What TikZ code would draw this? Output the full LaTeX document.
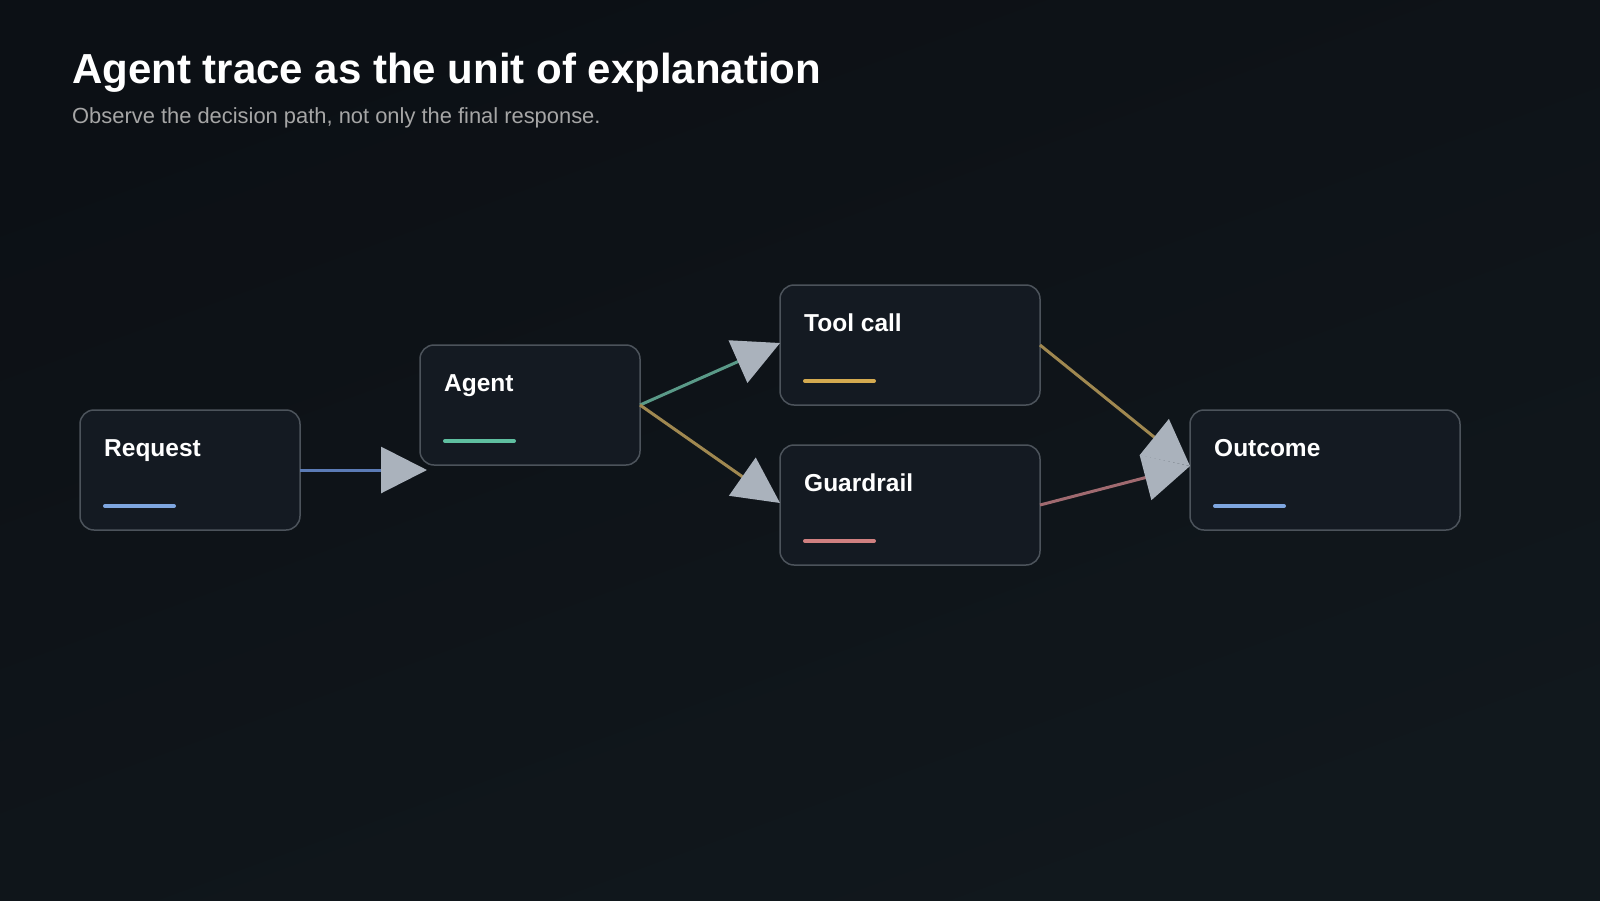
\documentclass[tikz,border=0pt]{standalone}
\usepackage{fontspec}
\setmainfont{Liberation Sans}
\usetikzlibrary{arrows.meta}
\definecolor{bgA}{HTML}{0C1015}
\definecolor{bgB}{HTML}{11181D}
\definecolor{boxf}{HTML}{141A22}
\definecolor{boxd}{HTML}{4C535B}
\definecolor{tipc}{HTML}{AAB2BC}
\definecolor{cblue}{HTML}{5B7BB5}
\definecolor{cteal}{HTML}{5A9A88}
\definecolor{cgold}{HTML}{A08850}
\definecolor{crose}{HTML}{A06A70}
\definecolor{ablue}{HTML}{7EA6E0}
\definecolor{ateal}{HTML}{5FBFA0}
\definecolor{agold}{HTML}{D4AA50}
\definecolor{arose}{HTML}{D08080}
\begin{document}
\begin{tikzpicture}[x=1pt,y=-1pt,
  box/.style={draw=boxd,line width=1.5pt,fill=boxf,rounded corners=14pt},
  lbl/.style={anchor=base west,text=white,font=\fontsize{24.5}{28}\selectfont\bfseries,inner sep=0},
  bar/.style={line width=4pt,line cap=round},
  conn/.style={line width=3pt,-{Triangle[length=46pt,width=46pt,fill=tipc,color=tipc]}}]
\shade[top color=bgA,bottom color=bgB,shading angle=20] (0,0) rectangle (1600,900);
\useasboundingbox (0,0) rectangle (1600,900);
\node[anchor=base west,text=white,font=\fontsize{42}{48}\selectfont\bfseries,inner sep=0] (title) at (72,83) {Agent trace as the unit of explanation};
\node[anchor=base west,text=gray!70,font=\fontsize{21.9}{26}\selectfont,inner sep=0] (sub) at (72,123) {Observe the decision path, not only the final response.};
\draw[box] (80,410) rectangle (300,530); \coordinate (req) at (300,470);
\draw[box] (420,345) rectangle (640,465); \coordinate (agR) at (640,405); \coordinate (agL) at (427,470);
\draw[box] (780,285) rectangle (1040,405); \coordinate (toolL) at (780,343); \coordinate (toolR) at (1040,345);
\draw[box] (780,445) rectangle (1040,565); \coordinate (guL) at (780,503); \coordinate (guR) at (1040,505);
\draw[box] (1190,410) rectangle (1460,530); \coordinate (outL) at (1190,466);
\node[lbl] (l1) at (104,456) {Request};
\node[lbl] (l2) at (444,391) {Agent};
\node[lbl] (l3) at (804,331) {Tool call};
\node[lbl] (l4) at (804,491) {Guardrail};
\node[lbl] (l5) at (1214,456) {Outcome};
\draw[bar,ablue] (105,506) -- (174,506);
\draw[bar,ateal] (445,441) -- (514,441);
\draw[bar,agold] (805,381) -- (874,381);
\draw[bar,arose] (805,541) -- (874,541);
\draw[bar,ablue] (1215,506) -- (1284,506);
\draw[conn,cblue] (req) -- (agL);
\draw[conn,cteal] (agR) -- (toolL);
\draw[conn,cgold] (agR) -- (guL);
\draw[conn,cgold] (toolR) -- (outL);
\draw[conn,crose] (guR) -- (outL);
\end{tikzpicture}
\end{document}
